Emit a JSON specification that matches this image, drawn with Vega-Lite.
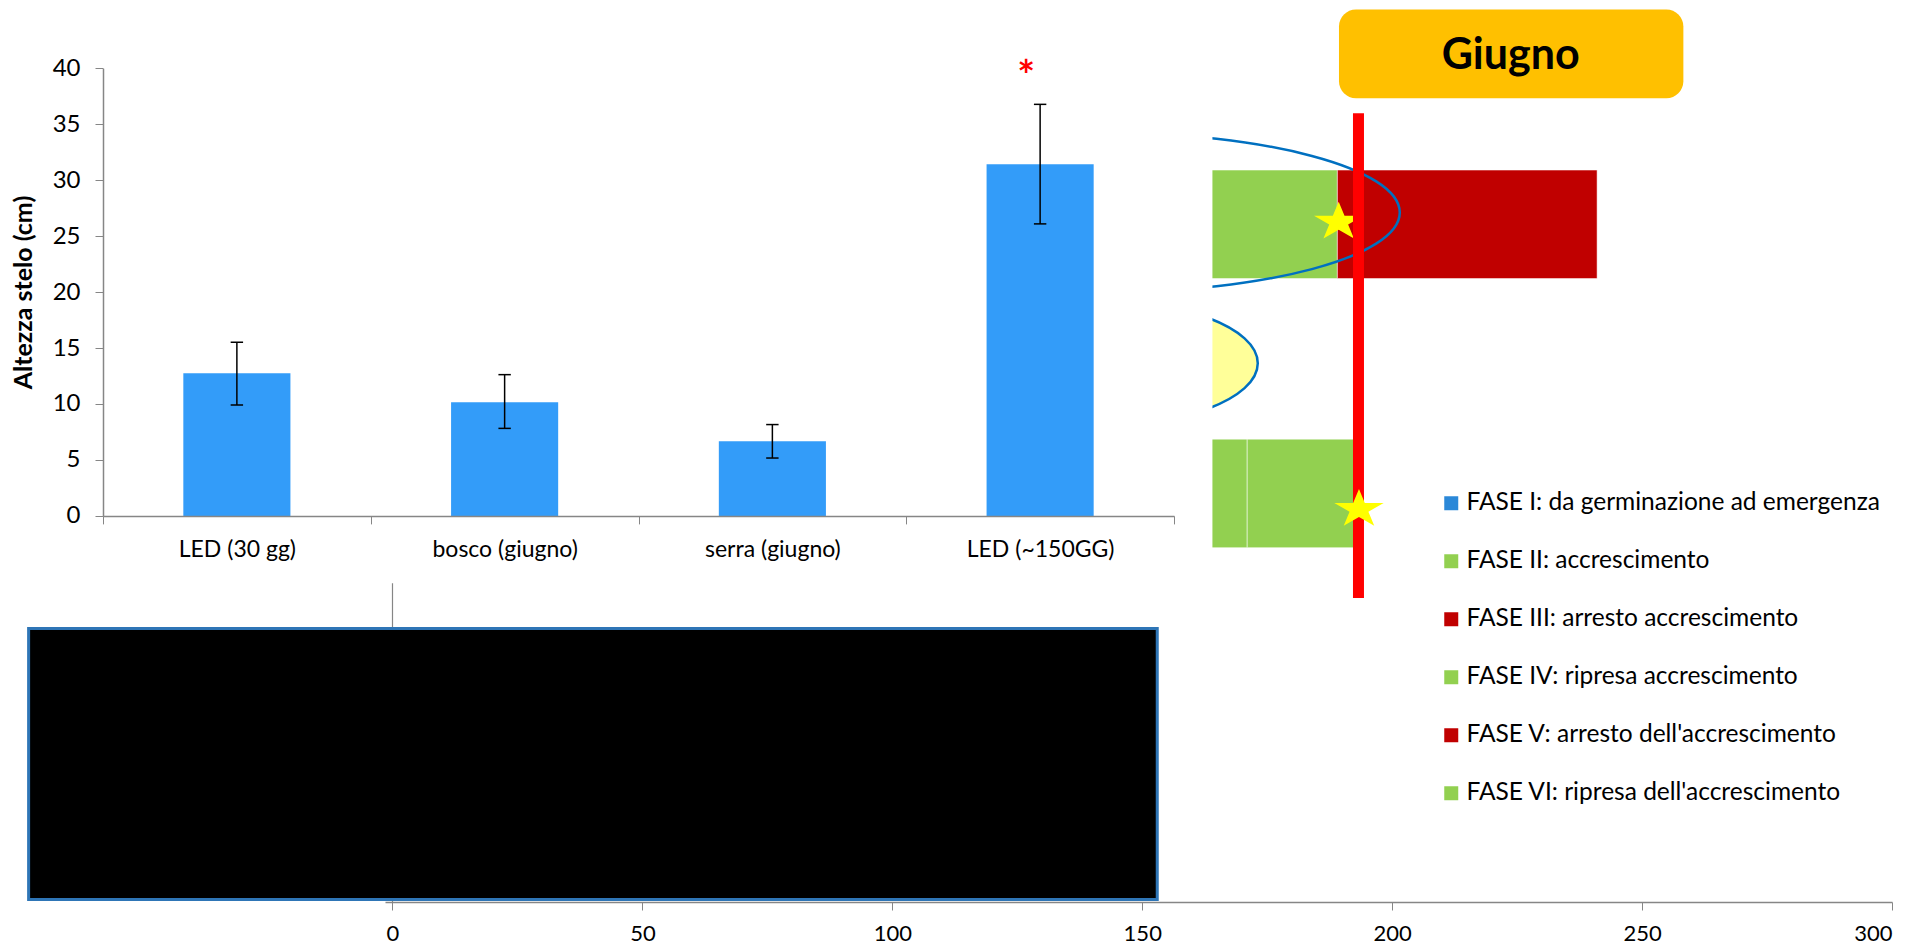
{
  "$schema": "https://vega.github.io/schema/vega-lite/v6.json",
  "width": 1789,
  "height": 902,
  "autosize": {"type": "none"},
  "padding": {"left": 103, "top": 0, "right": 24, "bottom": 46},
  "background": "white",
  "config": {
    "view": {"stroke": null},
    "font": "Lato",
    "axis": {"labelFont": "Lato", "titleFont": "Lato"},
    "legend": {"labelFont": "Lato"}
  },
  "datasets": {
    "altezza": [
      {"tesi": "LED (30 gg)", "media": 12.74, "min": 9.91, "max": 15.51},
      {"tesi": "bosco (giugno)", "media": 10.15, "min": 7.82, "max": 12.62},
      {"tesi": "serra (giugno)", "media": 6.68, "min": 5.17, "max": 8.16},
      {"tesi": "LED (~150GG)", "media": 31.42, "min": 26.09, "max": 36.77}
    ],
    "significativita": [
      {"tesi": "LED (~150GG)", "y": 39.1, "segno": "*"}
    ],
    "fasi": [
      {"riga": 1, "fase": "FASE II: accrescimento", "inizio": 150, "fine": 189.04},
      {"riga": 1, "fase": "FASE III: arresto accrescimento", "inizio": 189.04, "fine": 241},
      {"riga": 3, "fase": "FASE II: accrescimento", "inizio": 150, "fine": 171},
      {"riga": 3, "fase": "FASE IV: ripresa accrescimento", "inizio": 171, "fine": 192.5}
    ],
    "annotazioni": [
      {"elemento": "ellisse blu", "x": 141.5, "y": 0.932},
      {"elemento": "ellisse gialla", "x": 139.5, "y": 2.04},
      {"elemento": "sfondo grafico", "x": -80, "x2": 164.04, "y": -0.7, "y2": 3.6575},
      {"elemento": "asse gantt", "x": 0, "y": 3.6575, "y2": 6.0},
      {"elemento": "stella 1", "x": 189.3, "y": 1.0018},
      {"elemento": "linea giugno", "x": 193.26, "y": 0.2028, "y2": 3.7655},
      {"elemento": "stella 2", "x": 193.36, "y": 3.1135},
      {"elemento": "riquadro giugno", "x": 189.36, "x2": 258.26, "y": -0.5602, "y2": 0.0925},
      {"elemento": "testo giugno", "x": 223.7, "y": -0.1213, "testo": "Giugno"},
      {"elemento": "riquadro nero", "x": -72.8, "x2": 153.0, "y": 3.9897, "y2": 5.9816}
    ]
  },
  "layer": [
    {
      "data": {"name": "fasi"},
      "mark": {"type": "bar", "orient": "horizontal", "height": 108.5, "stroke": "#ffffff", "strokeWidth": 1, "strokeOpacity": 0.5},
      "encoding": {
        "x": {"field": "inizio", "type": "quantitative", "scale": {"domain": [-1.5, 300], "range": [282, 1789], "nice": false, "zero": false},
          "axis": {"orient": "bottom", "values": [0, 50, 100, 150, 200, 250, 300], "title": null, "grid": false, "domainColor": "#868686", "domainWidth": 1.5, "tickColor": "#868686", "tickSize": 8, "labelFontSize": 22, "labelColor": "#000000", "labelPadding": 13}},
        "x2": {"field": "fine"},
        "y": {"field": "riga", "type": "quantitative", "scale": {"domain": [-0.63, 6.0], "reverse": true, "nice": false, "zero": false}, "axis": null},
        "color": {"field": "fase", "type": "nominal",
          "scale": {"domain": ["FASE I: da germinazione ad emergenza", "FASE II: accrescimento", "FASE III: arresto accrescimento", "FASE IV: ripresa accrescimento", "FASE V: arresto dell'accrescimento", "FASE VI: ripresa dell'accrescimento"],
            "range": ["#2B88D8", "#92D050", "#C00000", "#92D050", "#C00000", "#92D050"]},
          "legend": {"orient": "none", "legendX": 1336, "legendY": 491, "title": null, "symbolType": "square", "symbolSize": 196, "symbolStrokeWidth": 0, "symbolOpacity": 1, "labelFontSize": 24.5, "labelColor": "#000000", "rowPadding": 33, "labelOffset": 3, "labelLimit": 700}}
      }
    },
    {
      "data": {"name": "annotazioni"},
      "transform": [{"filter": {"field": "elemento", "equal": "ellisse blu"}}],
      "mark": {"type": "point", "shape": "M-1,0 C-1,-0.1473 -0.5523,-0.2667 0,-0.2667 C0.5523,-0.2667 1,-0.1473 1,0 C1,0.1473 0.5523,0.2667 0,0.2667 C-0.5523,0.2667 -1,0.1473 -1,0 Z", "filled": false, "stroke": "#0070C0", "strokeWidth": 2.5, "opacity": 1, "size": 360000},
      "encoding": {
        "x": {"field": "x", "type": "quantitative", "scale": {"domain": [-1.5, 300], "range": [282, 1789], "nice": false, "zero": false}, "axis": null},
        "y": {"field": "y", "type": "quantitative", "scale": {"domain": [-0.63, 6.0], "reverse": true, "nice": false, "zero": false}, "axis": null}
      }
    },
    {
      "data": {"name": "annotazioni"},
      "transform": [{"filter": {"field": "elemento", "equal": "ellisse gialla"}}],
      "mark": {"type": "point", "shape": "M-1,0 C-1,-0.2104 -0.5523,-0.381 0,-0.381 C0.5523,-0.381 1,-0.2104 1,0 C1,0.2104 0.5523,0.381 0,0.381 C-0.5523,0.381 -1,0.2104 -1,0 Z", "filled": true, "fill": "#FFFF99", "stroke": "#0070C0", "strokeWidth": 2.5, "opacity": 1, "size": 112896},
      "encoding": {
        "x": {"field": "x", "type": "quantitative", "scale": {"domain": [-1.5, 300], "range": [282, 1789], "nice": false, "zero": false}, "axis": null},
        "y": {"field": "y", "type": "quantitative", "scale": {"domain": [-0.63, 6.0], "reverse": true, "nice": false, "zero": false}, "axis": null}
      }
    },
    {
      "data": {"name": "annotazioni"},
      "transform": [{"filter": {"field": "elemento", "equal": "sfondo grafico"}}],
      "mark": {"type": "rect", "color": "#ffffff", "opacity": 1},
      "encoding": {
        "x": {"field": "x", "type": "quantitative", "scale": {"domain": [-1.5, 300], "range": [282, 1789], "nice": false, "zero": false}, "axis": null},
        "x2": {"field": "x2"},
        "y": {"field": "y", "type": "quantitative", "scale": {"domain": [-0.63, 6.0], "reverse": true, "nice": false, "zero": false}, "axis": null},
        "y2": {"field": "y2"}
      }
    },
    {
      "data": {"name": "annotazioni"},
      "transform": [{"filter": {"field": "elemento", "equal": "asse gantt"}}],
      "mark": {"type": "rule", "color": "#868686", "strokeWidth": 1.2},
      "encoding": {
        "x": {"field": "x", "type": "quantitative", "scale": {"domain": [-1.5, 300], "range": [282, 1789], "nice": false, "zero": false}, "axis": null},
        "y": {"field": "y", "type": "quantitative", "scale": {"domain": [-0.63, 6.0], "reverse": true, "nice": false, "zero": false}, "axis": null},
        "y2": {"field": "y2"}
      }
    },
    {
      "data": {"name": "annotazioni"},
      "transform": [{"filter": {"field": "elemento", "equal": "stella 1"}}],
      "mark": {"type": "point", "shape": "M0,-0.821 L0.236,-0.254 L1,-0.254 L0.382,0.097 L0.618,0.664 L0,0.314 L-0.618,0.664 L-0.382,0.097 L-1,-0.254 L-0.236,-0.254 Z", "filled": true, "fill": "#FFFF00", "strokeWidth": 0, "opacity": 1, "size": 2440},
      "encoding": {
        "x": {"field": "x", "type": "quantitative", "scale": {"domain": [-1.5, 300], "range": [282, 1789], "nice": false, "zero": false}, "axis": null},
        "y": {"field": "y", "type": "quantitative", "scale": {"domain": [-0.63, 6.0], "reverse": true, "nice": false, "zero": false}, "axis": null}
      }
    },
    {
      "data": {"name": "annotazioni"},
      "transform": [{"filter": {"field": "elemento", "equal": "linea giugno"}}],
      "mark": {"type": "rule", "color": "#FF0000", "strokeWidth": 11},
      "encoding": {
        "x": {"field": "x", "type": "quantitative", "scale": {"domain": [-1.5, 300], "range": [282, 1789], "nice": false, "zero": false}, "axis": null},
        "y": {"field": "y", "type": "quantitative", "scale": {"domain": [-0.63, 6.0], "reverse": true, "nice": false, "zero": false}, "axis": null},
        "y2": {"field": "y2"}
      }
    },
    {
      "data": {"name": "annotazioni"},
      "transform": [{"filter": {"field": "elemento", "equal": "stella 2"}}],
      "mark": {"type": "point", "shape": "M0,-0.821 L0.236,-0.254 L1,-0.254 L0.382,0.097 L0.618,0.664 L0,0.314 L-0.618,0.664 L-0.382,0.097 L-1,-0.254 L-0.236,-0.254 Z", "filled": true, "fill": "#FFFF00", "strokeWidth": 0, "opacity": 1, "size": 2440},
      "encoding": {
        "x": {"field": "x", "type": "quantitative", "scale": {"domain": [-1.5, 300], "range": [282, 1789], "nice": false, "zero": false}, "axis": null},
        "y": {"field": "y", "type": "quantitative", "scale": {"domain": [-0.63, 6.0], "reverse": true, "nice": false, "zero": false}, "axis": null}
      }
    },
    {
      "data": {"name": "annotazioni"},
      "transform": [{"filter": {"field": "elemento", "equal": "riquadro giugno"}}],
      "mark": {"type": "rect", "color": "#FFC000", "cornerRadius": 17, "opacity": 1},
      "encoding": {
        "x": {"field": "x", "type": "quantitative", "scale": {"domain": [-1.5, 300], "range": [282, 1789], "nice": false, "zero": false}, "axis": null},
        "x2": {"field": "x2"},
        "y": {"field": "y", "type": "quantitative", "scale": {"domain": [-0.63, 6.0], "reverse": true, "nice": false, "zero": false}, "axis": null},
        "y2": {"field": "y2"}
      }
    },
    {
      "data": {"name": "annotazioni"},
      "transform": [{"filter": {"field": "elemento", "equal": "testo giugno"}}],
      "mark": {"type": "text", "fontSize": 43, "fontWeight": "bold", "color": "#000000", "align": "center", "baseline": "alphabetic"},
      "encoding": {
        "x": {"field": "x", "type": "quantitative", "scale": {"domain": [-1.5, 300], "range": [282, 1789], "nice": false, "zero": false}, "axis": null},
        "y": {"field": "y", "type": "quantitative", "scale": {"domain": [-0.63, 6.0], "reverse": true, "nice": false, "zero": false}, "axis": null},
        "text": {"field": "testo"}
      }
    },
    {
      "data": {"name": "annotazioni"},
      "transform": [{"filter": {"field": "elemento", "equal": "riquadro nero"}}],
      "mark": {"type": "rect", "fill": "#000000", "stroke": "#2E75B6", "strokeWidth": 3, "opacity": 1},
      "encoding": {
        "x": {"field": "x", "type": "quantitative", "scale": {"domain": [-1.5, 300], "range": [282, 1789], "nice": false, "zero": false}, "axis": null},
        "x2": {"field": "x2"},
        "y": {"field": "y", "type": "quantitative", "scale": {"domain": [-0.63, 6.0], "reverse": true, "nice": false, "zero": false}, "axis": null},
        "y2": {"field": "y2"}
      }
    },
    {
      "data": {"name": "altezza"},
      "mark": {"type": "bar", "width": {"band": 0.4}, "color": "#339CF9"},
      "encoding": {
        "x": {"field": "tesi", "type": "nominal", "sort": null,
          "scale": {"domain": ["LED (30 gg)", "bosco (giugno)", "serra (giugno)", "LED (~150GG)"], "range": [0, 1071], "paddingInner": 0, "paddingOuter": 0},
          "axis": {"orient": "bottom", "offset": -386.1, "title": null, "tickBand": "extent", "labelAngle": 0, "domainColor": "#868686", "domainWidth": 1.5, "tickColor": "#868686", "tickSize": 8, "labelFontSize": 23, "labelColor": "#000000", "labelPadding": 15, "zindex": 1}},
        "y": {"field": "media", "type": "quantitative",
          "scale": {"domain": [0, 40], "range": [515.9, 68.2], "nice": false, "zero": false},
          "axis": {"orient": "left", "values": [0, 5, 10, 15, 20, 25, 30, 35, 40], "title": "Altezza stelo (cm)", "titleFontSize": 25, "titleFontWeight": "bold", "titleColor": "#000000", "titlePadding": 16, "grid": false, "domainColor": "#868686", "domainWidth": 1.5, "tickColor": "#868686", "tickSize": 8, "labelFontSize": 24, "labelColor": "#000000", "labelPadding": 15, "zindex": 1}}
      }
    },
    {
      "data": {"name": "altezza"},
      "mark": {"type": "rule", "color": "#000000", "strokeWidth": 1.5},
      "encoding": {
        "x": {"field": "tesi", "type": "nominal", "sort": null, "scale": {"domain": ["LED (30 gg)", "bosco (giugno)", "serra (giugno)", "LED (~150GG)"], "range": [0, 1071], "paddingInner": 0, "paddingOuter": 0}, "axis": null},
        "y": {"field": "min", "type": "quantitative", "scale": {"domain": [0, 40], "range": [515.9, 68.2], "nice": false, "zero": false}, "axis": null},
        "y2": {"field": "max"}
      }
    },
    {
      "data": {"name": "altezza"},
      "mark": {"type": "tick", "color": "#000000", "thickness": 1.5, "orient": "horizontal", "opacity": 1},
      "encoding": {
        "x": {"field": "tesi", "type": "nominal", "sort": null, "scale": {"domain": ["LED (30 gg)", "bosco (giugno)", "serra (giugno)", "LED (~150GG)"], "range": [0, 1071], "paddingInner": 0, "paddingOuter": 0}, "axis": null},
        "y": {"field": "max", "type": "quantitative", "scale": {"domain": [0, 40], "range": [515.9, 68.2], "nice": false, "zero": false}, "axis": null},
        "size": {"value": 12.4}
      }
    },
    {
      "data": {"name": "altezza"},
      "mark": {"type": "tick", "color": "#000000", "thickness": 1.5, "orient": "horizontal", "opacity": 1},
      "encoding": {
        "x": {"field": "tesi", "type": "nominal", "sort": null, "scale": {"domain": ["LED (30 gg)", "bosco (giugno)", "serra (giugno)", "LED (~150GG)"], "range": [0, 1071], "paddingInner": 0, "paddingOuter": 0}, "axis": null},
        "y": {"field": "min", "type": "quantitative", "scale": {"domain": [0, 40], "range": [515.9, 68.2], "nice": false, "zero": false}, "axis": null},
        "size": {"value": 12.4}
      }
    },
    {
      "data": {"name": "significativita"},
      "mark": {"type": "text", "color": "#FF0000", "fontSize": 42, "fontWeight": "bold", "dx": -14, "baseline": "middle", "align": "center"},
      "encoding": {
        "x": {"field": "tesi", "type": "nominal", "sort": null, "scale": {"domain": ["LED (30 gg)", "bosco (giugno)", "serra (giugno)", "LED (~150GG)"], "range": [0, 1071], "paddingInner": 0, "paddingOuter": 0}, "axis": null},
        "y": {"field": "y", "type": "quantitative", "scale": {"domain": [0, 40], "range": [515.9, 68.2], "nice": false, "zero": false}, "axis": null},
        "text": {"field": "segno"}
      }
    }
  ],
  "resolve": {"scale": {"x": "independent", "y": "independent"}}
}
